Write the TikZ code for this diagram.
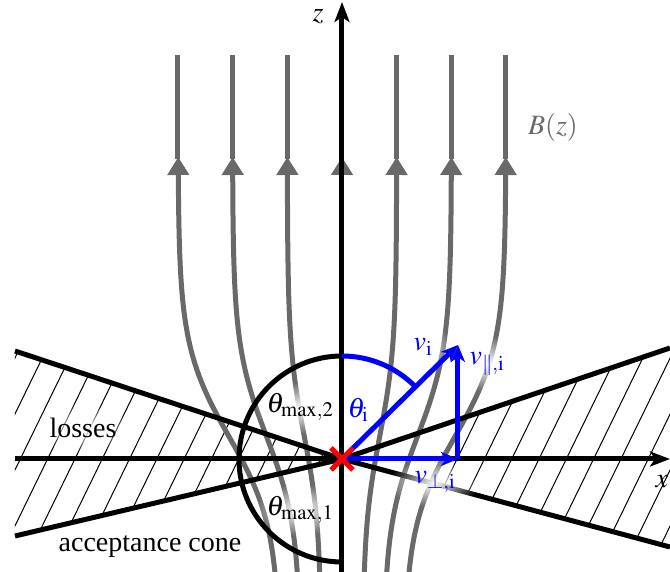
\documentclass[tikz,border=0pt]{standalone}
\usepackage{mathptmx}
\usepackage{fontspec}
\setmainfont{Liberation Serif}
\usetikzlibrary{arrows.meta,fadings}
\definecolor{fieldgray}{RGB}{105,105,105}
\tikzfading[name=softhalo, inner color=transparent!0, outer color=transparent!100]
\tikzset{
  fieldline/.style={line width=5pt, draw=fieldgray},
  fieldtip/.style={-{Triangle[length=18pt,width=21pt]}},
  axisline/.style={line width=5pt, -{Stealth[length=20pt,width=15pt,inset=5pt]}},
  coneline/.style={line width=5pt},
  hatchline/.style={line width=1pt},
  vecline/.style={line width=5pt, blue, -{Stealth[length=17pt,width=14pt,inset=5pt]}},
  halo/.style={white, path fading=softhalo},
  lbl/.style={font=\fontsize{28}{30}\selectfont, inner sep=0pt},
}
\begin{document}
\begin{tikzpicture}[x=1pt,y=1pt]
\useasboundingbox (-342,-113) rectangle (328,459);
\coordinate (O) at (0,0);
\coordinate (UL) at (-327,108);
\coordinate (LL) at (-327,-77);
\coordinate (UR) at (328,111);
\coordinate (LR) at (328,-88);
\coordinate (xs) at (-327,0);
\coordinate (xe) at (328,0);
\coordinate (zs) at (0,-113);
\coordinate (ze) at (0,457);
\coordinate (vt) at (116,114);
\coordinate (vb) at (116,0);

% hatching
\begin{scope}
  \clip (UL) -- (O) -- (LL) -- cycle;
  \foreach \k in {-20,...,0} {
    \draw[hatchline] ({169.7+27.3*\k-60},-123) -- ({169.7+27.3*\k+60},123);
  }
\end{scope}
\begin{scope}
  \clip (UR) -- (O) -- (LR) -- cycle;
  \foreach \k in {-2,...,8} {
    \draw[hatchline] ({169.7+27.3*\k-60},-123) -- ({169.7+27.3*\k+60},123);
  }
\end{scope}

% field lines
\foreach \xo in {-164,-109.5,-54.7,54.7,109.5,164} {
  \draw[fieldline, fieldtip] plot[domain=-115:302, samples=60, variable=\t]
    ({\xo*(0.38+0.62/(1+exp(-(\t-22.7)/45)))},\t);
  \draw[fieldline] (\xo,300) -- (\xo,404);
}
\draw[fieldline, fieldtip] (0,-113) -- (0,302);
\draw[fieldline] (0,300) -- (0,404);

% lower right cone line (under the halos)
\draw[coneline] (O) -- (LR);

% halos
\fill[halo] (81,112) ellipse (28 and 24);
\fill[halo] (146,95) ellipse (38 and 28);
\fill[halo] (92,-24) ellipse (46 and 24);
\fill[halo] (-42,51) ellipse (46 and 26);
\fill[halo] (-42,-51) ellipse (46 and 26);
\fill[halo] (-259,31) ellipse (50 and 24);

% cones and axes
\draw[coneline] (UL) -- (O) -- (LL);
\draw[coneline] (O) -- (UR);
\draw[axisline] (xs) -- (xe);
\draw[axisline] (zs) -- (ze);
\draw[coneline] (0,103) arc[start angle=90, end angle=270, radius=103];

% blue vectors
\draw[line width=5pt, blue] (0,103) arc[start angle=90, end angle=45, radius=103];
\draw[vecline] (O) -- (vt);
\draw[vecline] (O) -- (vb);
\draw[vecline] (vb) -- (vt);

% origin cross
\draw[red, line width=5pt] (-11,-11) -- (11,11) (-11,11) -- (11,-11);

% labels
\node[lbl] (zl) at (-24,442) {$z$};
\node[lbl] (xl) at (320,-23) {$x$};
\node[lbl, text=fieldgray] (bl) at (211,331) {$B(z)$};
\node[lbl] (loss) at (-259,31) {losses};
\node[lbl] (acc) at (-192,-88) {acceptance cone};
\node[lbl] (tm2) at (-42,52) {$\theta_{\mathrm{max},2}$};
\node[lbl] (tm1) at (-42,-51) {$\theta_{\mathrm{max},1}$};
\node[lbl, text=blue] (ti) at (16,49) {$\theta_{\mathrm{i}}$};
\node[lbl, text=blue] (vil) at (81,112) {$v_{\mathrm{i}}$};
\node[lbl, text=blue] (vpl) at (145,95) {$v_{\parallel,\mathrm{i}}$};
\node[lbl, text=blue] (vtl) at (93,-23) {$v_{\perp,\mathrm{i}}$};
\end{tikzpicture}
\end{document}
